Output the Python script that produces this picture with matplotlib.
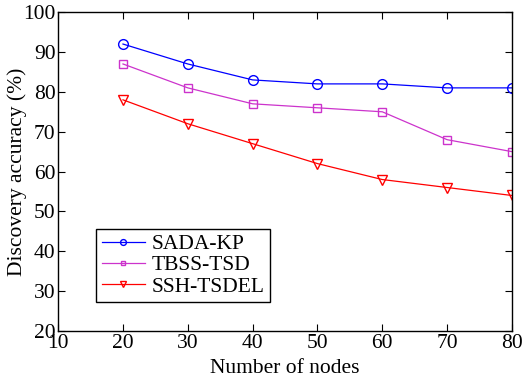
import matplotlib
matplotlib.use("Agg")
import matplotlib.pyplot as plt

plt.rcParams['font.family'] = ['Liberation Serif', 'DejaVu Serif']
plt.rcParams['mathtext.fontset'] = 'stix'

nodes = [20, 30, 40, 50, 60, 70, 80]
sada_kp = [92, 87, 83, 82, 82, 81, 81]
tbss_tsd = [87, 81, 77, 76, 75, 68, 65]
ssh_tsdel = [78, 72, 67, 62, 58, 56, 54]
xticks = [10, 20, 30, 40, 50, 60, 70, 80]
yticks = [20, 30, 40, 50, 60, 70, 80, 90, 100]

fig = plt.figure(figsize=(5.24, 3.8), dpi=100)
ax = fig.add_axes([0.111, 0.129, 0.866, 0.839])

ax.plot(nodes, sada_kp, color='#0000ff', marker='o', ms=7, mfc='none', lw=0.9, label='SADA-KP')
ax.plot(nodes, tbss_tsd, color='#cc33cc', marker='s', ms=6, mfc='none', lw=0.9, label='TBSS-TSD')
ax.plot(nodes, ssh_tsdel, color='#ff0000', marker='v', ms=7.5, mfc='none', lw=0.9, label='SSH-TSDEL')

ax.set_xlim(10, 80)
ax.set_ylim(20, 100)
ax.set_xticks(xticks)
ax.set_yticks(yticks)
ax.tick_params(direction='in', top=True, right=True, labelsize=15.5, length=5, width=0.8, pad=2)
for s in ax.spines.values():
    s.set_linewidth(1.0)
ax.set_xlabel('Number of nodes', fontsize=15.5, labelpad=4.5)
ax.set_ylabel('Discovery accuracy (%)', fontsize=15.5, labelpad=-3)

leg = ax.legend(loc='lower left', bbox_to_anchor=(0.084, 0.091), borderaxespad=0, fontsize=15.5,
                markerscale=0.6, handlelength=2.0, handletextpad=0.3, borderpad=0.25,
                labelspacing=0.05, fancybox=False, framealpha=1, edgecolor='black')
leg.get_frame().set_linewidth(1.0)

fig.savefig('out.png', dpi=100)
